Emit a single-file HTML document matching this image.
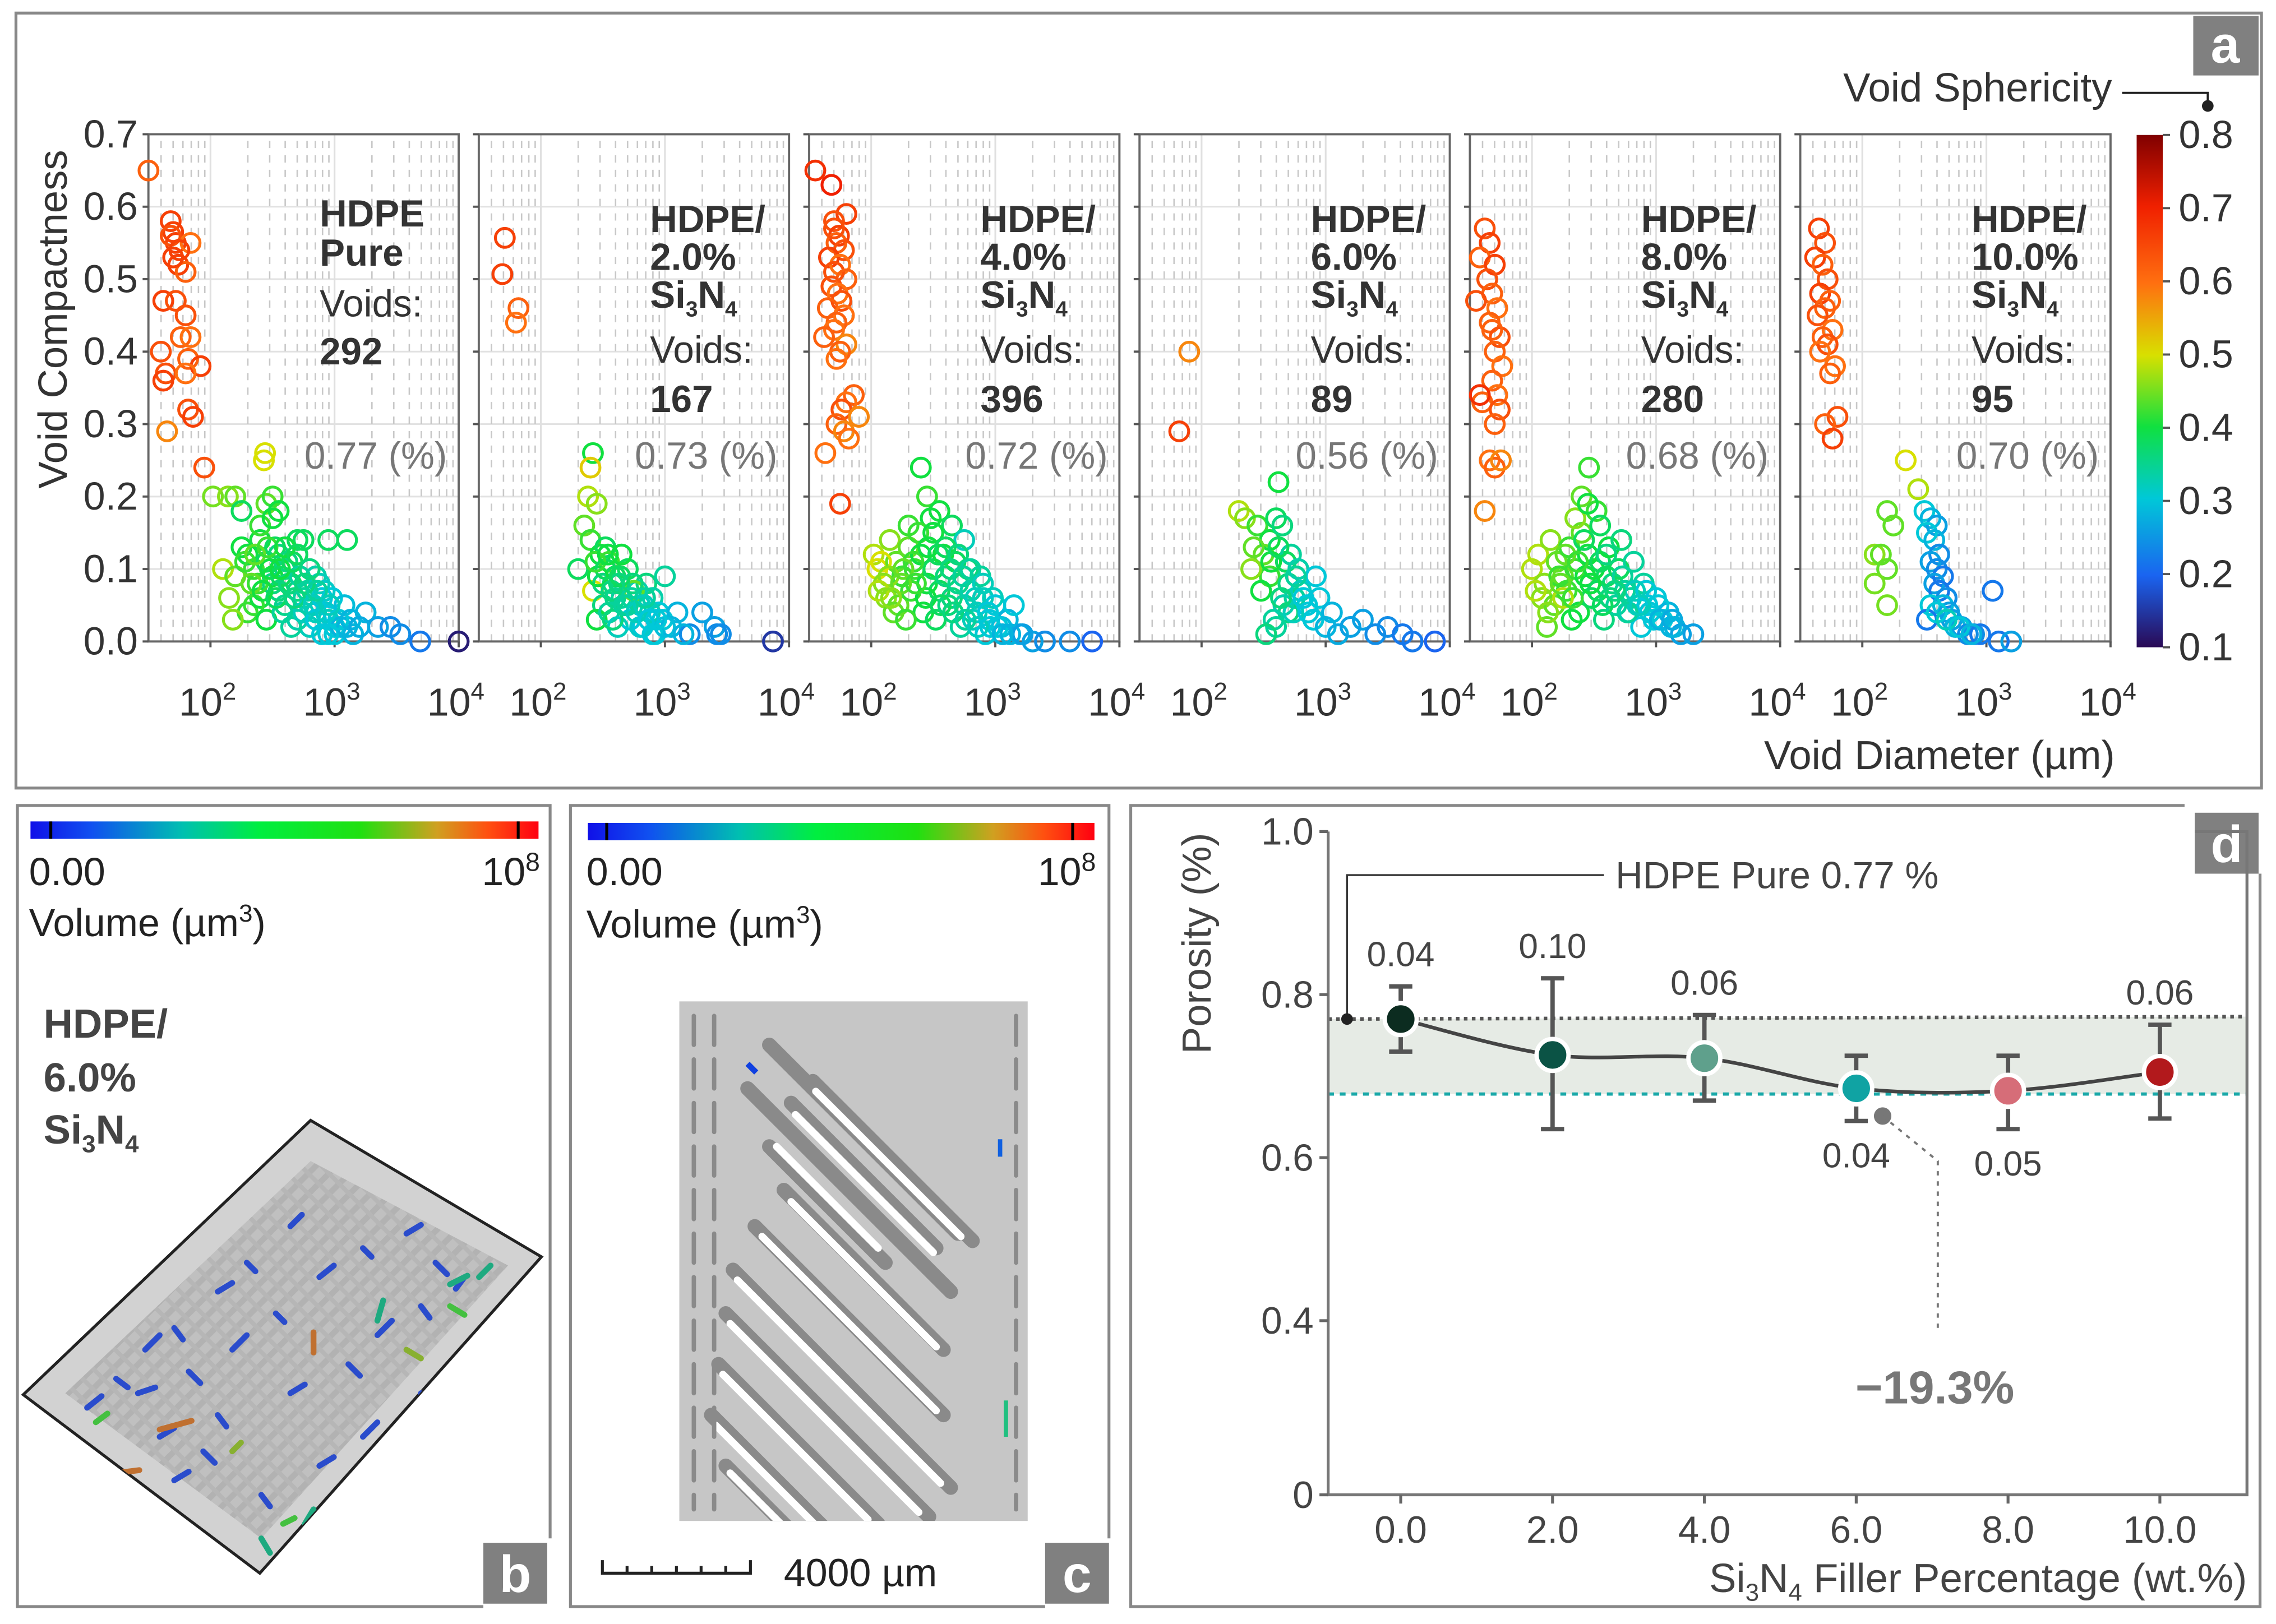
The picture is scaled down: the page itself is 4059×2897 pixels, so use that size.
<!DOCTYPE html>
<html><head><meta charset="utf-8">
<style>
html,body{margin:0;padding:0;background:#fff;}
svg{display:block;}
text{font-family:"Liberation Sans","DejaVu Sans",sans-serif;}
</style></head>
<body>
<svg id="fig" xmlns="http://www.w3.org/2000/svg" width="4059" height="2897" viewBox="0 0 1568 1119" preserveAspectRatio="none">
<defs>
<linearGradient id="sphGrad" x1="0" y1="1" x2="0" y2="0">
<stop offset="0" stop-color="#2a0a55"/><stop offset="0.14" stop-color="#1a64f0"/><stop offset="0.29" stop-color="#00c8d8"/><stop offset="0.43" stop-color="#10e040"/><stop offset="0.57" stop-color="#d8e000"/><stop offset="0.71" stop-color="#ff7010"/><stop offset="0.86" stop-color="#f02000"/><stop offset="1" stop-color="#800000"/>
</linearGradient>
<linearGradient id="volGrad" x1="0" y1="0" x2="1" y2="0">
<stop offset="0" stop-color="#1010e8"/><stop offset="0.12" stop-color="#1050f0"/><stop offset="0.3" stop-color="#00c0b0"/><stop offset="0.45" stop-color="#00ee40"/><stop offset="0.65" stop-color="#20e010"/><stop offset="0.8" stop-color="#d0a020"/><stop offset="0.9" stop-color="#ff5010"/><stop offset="1" stop-color="#ff0010"/>
</linearGradient>
<pattern id="hatch" width="10" height="10" patternUnits="userSpaceOnUse" patternTransform="rotate(45)">
<rect width="10" height="10" fill="#b4b4b4"/><rect width="4" height="10" fill="#9c9c9c"/><rect width="10" height="3" fill="#a4a4a4"/>
</pattern>
<clipPath id="blockClip"><polygon points="16,961 214,772 373,866 179,1084"/></clipPath>
</defs>

<!-- Panel a frame -->
<rect x="11" y="9" width="1547" height="534" fill="none" stroke="#888" stroke-width="2"/>
<rect x="1511" y="11" width="45" height="41" fill="#808080"/>
<text x="1533" y="43" font-size="36" font-weight="bold" fill="#fff" text-anchor="middle">a</text>
<text transform="translate(46,220) rotate(-90)" font-size="28" fill="#333" text-anchor="middle">Void Compactness</text>
<text x="1457" y="530" font-size="28" fill="#333" text-anchor="end">Void Diameter (µm)</text>
<g id="scatters"></g>

<!-- sphericity colorbar -->
<rect x="1472" y="93" width="18" height="353" fill="url(#sphGrad)"/>
<g id="sphTicks"></g>
<text x="1455" y="70" font-size="28" fill="#333" text-anchor="end">Void Sphericity</text>
<polyline points="1462,64 1521,64 1521,72" fill="none" stroke="#222" stroke-width="1.5"/>
<circle cx="1521" cy="73" r="4" fill="#222"/>

<!-- Panel b -->
<polyline points="333,1107 12,1107 12,555 379,555 379,1060" fill="none" stroke="#888" stroke-width="2"/>
<rect x="21" y="566" width="350" height="12" fill="url(#volGrad)"/>
<line x1="35" y1="566" x2="35" y2="578" stroke="#000" stroke-width="2"/><line x1="357" y1="566" x2="357" y2="578" stroke="#000" stroke-width="2"/>
<text x="20" y="610" font-size="27" fill="#222">0.00</text>
<text x="372" y="610" font-size="27" fill="#222" text-anchor="end">10<tspan dy="-10" font-size="18">8</tspan></text>
<text x="20" y="645" font-size="27" fill="#222">Volume (µm<tspan dy="-10" font-size="17">3</tspan><tspan dy="10">)</tspan></text>
<text font-size="28" font-weight="bold" fill="#444"><tspan x="30" y="715">HDPE/</tspan><tspan x="30" y="752">6.0%</tspan><tspan x="30" y="788">Si</tspan><tspan font-size="17" dy="6">3</tspan><tspan dy="-6">N</tspan><tspan font-size="17" dy="6">4</tspan></text>
<g>
<polygon points="16,961 214,772 373,866 179,1084" fill="#d2d2d2" stroke="#222" stroke-width="2"/>
<g clip-path="url(#blockClip)">
<polygon points="45,960 214,800 350,872 180,1060" fill="url(#hatch)" opacity="0.6"/>
<g stroke-width="4" stroke-linecap="round" fill="none">
<path d="M40,985 l14,12 M60,970 l10,-8 M80,950 l8,6 M100,930 l10,-10 M120,915 l6,8 M150,890 l10,-6 M170,870 l6,6 M200,845 l8,-8 M95,960 l12,-4 M130,945 l8,8 M160,930 l10,-10 M190,905 l6,6 M220,880 l10,-8 M250,860 l6,6 M280,850 l10,-6 M300,870 l8,8 M320,880 l-6,8 M110,990 l10,-6 M150,975 l6,8 M200,960 l10,-6 M240,940 l8,8 M260,920 l10,-10 M290,900 l6,8 M220,1010 l10,-6 M180,1030 l6,8 M250,990 l10,-10 M290,960 l8,6 M140,1000 l8,8 M120,1020 l10,-6 M230,1040 l6,8 M270,1010 l10,-6" stroke="#2a4ccc"/>
<path d="M40,990 l10,15 M60,1000 l12,6 M210,1050 l6,-10 M260,910 l4,-14 M310,885 l12,-6 M240,1030 l10,8 M180,1060 l6,10 M50,1010 l8,6 M330,880 l8,-8" stroke="#1eaa80"/>
<path d="M48,995 l10,10 M66,980 l8,-6 M195,1050 l8,-4 M310,900 l10,6" stroke="#44c040"/>
<path d="M110,985 l22,-6 M216,918 l0,14 M80,1015 l16,-2" stroke="#c07030"/>
<path d="M280,930 l10,6 M240,1035 l10,-4 M160,1000 l6,-6" stroke="#88b030"/>
</g>
</g>
</g>
<rect x="333" y="1063" width="44" height="42" fill="#808080"/>
<text x="355" y="1097" font-size="36" font-weight="bold" fill="#fff" text-anchor="middle">b</text>

<!-- Panel c -->
<polyline points="720,1107 393,1107 393,555 764,555 764,1060" fill="none" stroke="#888" stroke-width="2"/>
<rect x="405" y="567" width="349" height="12" fill="url(#volGrad)"/>
<line x1="418" y1="567" x2="418" y2="579" stroke="#000" stroke-width="2"/><line x1="739" y1="567" x2="739" y2="579" stroke="#000" stroke-width="2"/>
<text x="404" y="610" font-size="27" fill="#222">0.00</text>
<text x="755" y="610" font-size="27" fill="#222" text-anchor="end">10<tspan dy="-10" font-size="18">8</tspan></text>
<text x="404" y="646" font-size="27" fill="#222">Volume (µm<tspan dy="-10" font-size="17">3</tspan><tspan dy="10">)</tspan></text>
<g>
<rect x="468" y="690" width="240" height="358" fill="#c6c6c6"/>
<clipPath id="sliceClip"><rect x="468" y="690" width="240" height="358"/></clipPath>
<g clip-path="url(#sliceClip)" stroke-linecap="round">
<g stroke="#8a8a8a" stroke-width="10">
<path d="M530,720 l130,130 M515,750 l140,140 M530,790 l80,80 M545,760 l100,100 M560,745 l110,110 M540,820 l110,110 M520,845 l130,130 M505,875 l150,150 M500,905 l140,140 M495,940 l110,110 M490,975 l80,80 M500,1010 l50,50"/>
</g>
<g stroke="#fff" stroke-width="5">
<path d="M535,790 l70,70 M548,768 l95,95 M562,752 l100,100 M545,828 l100,100 M525,852 l120,120 M508,882 l140,140 M503,912 l130,130 M498,947 l100,100 M493,982 l72,72 M503,1015 l40,40"/>
</g>
<path d="M478,700 v340 M492,700 v340 M700,700 v340" stroke="#8a8a8a" stroke-width="3" stroke-dasharray="20,10"/>
</g>
<path d="M515,733 l6,6" stroke="#1040e0" stroke-width="4"/>
<path d="M693,965 v25" stroke="#20c080" stroke-width="3"/>
<path d="M689,785 v12" stroke="#1060e0" stroke-width="3"/>
</g>
<path d="M415,1075 v9 h102 v-9 M432,1084 v-5 M449,1084 v-5 M466,1084 v-5 M483,1084 v-5 M500,1084 v-5" fill="none" stroke="#222" stroke-width="2"/>
<text x="540" y="1093" font-size="27" fill="#222">4000 µm</text>
<rect x="720" y="1063" width="44" height="42" fill="#808080"/>
<text x="742" y="1097" font-size="36" font-weight="bold" fill="#fff" text-anchor="middle">c</text>

<!-- Panel d -->
<polyline points="1505,555 779,555 779,1107 1557,1107 1557,602" fill="none" stroke="#888" stroke-width="2"/>
<rect x="1512" y="560" width="44" height="42" fill="#808080"/>
<text x="1534" y="594" font-size="36" font-weight="bold" fill="#fff" text-anchor="middle">d</text>
<g id="porosity"></g>
<text transform="translate(834,650) rotate(-90)" font-size="28" fill="#444" text-anchor="middle">Porosity (%)</text>
<text x="1548" y="1097" font-size="28" fill="#444" text-anchor="end">Si<tspan font-size="17" dy="6">3</tspan><tspan dy="-6">N</tspan><tspan font-size="17" dy="6">4</tspan><tspan dy="-6"> Filler Percentage (wt.%)</tspan></text>
</svg>

<script>
// ---------------- Panel a data (log10 diameter, compactness, sphericity) ----------------
const panelNames = ["HDPE Pure","HDPE/2.0% Si3N4","HDPE/4.0% Si3N4","HDPE/6.0% Si3N4","HDPE/8.0% Si3N4","HDPE/10.0% Si3N4"];
const voidCounts = [292,167,396,89,280,95];
const porosityText = ["0.77 (%)","0.73 (%)","0.72 (%)","0.56 (%)","0.68 (%)","0.70 (%)"];
const xTicks = [2,3,4];
const yTicksA = [0,0.1,0.2,0.3,0.4,0.5,0.6,0.7];
const sphTicks = [0.1,0.2,0.3,0.4,0.5,0.6,0.7,0.8];

const p1D = [1.50,1.68,1.70,1.72,1.68,1.84,1.74,1.80,1.62,1.72,1.80,1.76,1.84,1.60,1.82,1.92,1.64,1.62,1.80,1.82,1.86,1.65,1.95,1.70,1.75,
 2.44,2.43,2.02,2.14,2.20,2.25,2.45,2.50,2.55,2.70,2.75,2.10,2.15,2.20,2.30,2.35,2.40,2.45,2.50,2.55,2.60,2.65,2.70,2.75,2.80,2.85,2.90,2.95,3.00,2.30,2.40,2.50,2.60,2.70,2.80,2.90,3.00,3.05,2.20,2.35,2.45,2.55,2.65,2.75,2.85,2.95,3.10,3.15,2.18,2.25,3.25,3.35,3.45,3.53,3.69,4.00,2.95,3.10,2.38,2.52,2.62,2.58,2.85,2.92,
 2.28,2.33,2.42,2.48,2.53,2.57,2.63,2.68,2.72,2.78,2.83,2.88,2.93,2.98,3.03,3.08,3.13,3.20,2.36,2.46,2.56,2.66,2.76,2.86,2.96,2.40,2.50,2.60,2.70,2.80];
const p1C = [.65,.58,.565,.55,.56,.55,.52,.51,.47,.47,.45,.42,.42,.40,.39,.38,.37,.36,.37,.32,.31,.29,.24,.53,.54,
 .26,.25,.20,.20,.20,.18,.19,.20,.18,.14,.14,.10,.06,.09,.12,.10,.14,.11,.09,.12,.10,.08,.07,.06,.05,.04,.06,.03,.02,.04,.06,.08,.05,.03,.02,.01,.01,.02,.09,.05,.03,.07,.02,.04,.03,.01,.02,.01,.03,.13,.04,.02,.02,.01,0,0,.14,.14,.08,.13,.11,.04,.09,.07,
 .11,.08,.07,.10,.06,.09,.08,.06,.09,.07,.05,.08,.04,.06,.03,.05,.03,.02,.12,.13,.10,.11,.08,.07,.05,.16,.17,.13,.12,.10];
const p1S = [.62,.66,.66,.66,.64,.60,.66,.62,.66,.64,.64,.62,.60,.64,.62,.66,.64,.66,.60,.64,.66,.58,.64,.66,.66,
 .50,.50,.45,.46,.44,.38,.44,.42,.40,.38,.38,.48,.46,.44,.40,.42,.40,.38,.40,.36,.36,.38,.36,.34,.32,.32,.30,.32,.30,.42,.40,.36,.35,.33,.32,.30,.30,.28,.44,.42,.40,.36,.34,.32,.30,.30,.28,.28,.46,.40,.28,.26,.24,.24,.22,.12,.38,.38,.42,.38,.36,.34,.33,.31,
 .42,.44,.40,.40,.38,.38,.36,.36,.34,.34,.32,.32,.31,.30,.30,.29,.28,.27,.44,.42,.40,.38,.36,.34,.32,.42,.40,.40,.38,.36];

const p2D = [1.71,1.69,1.82,1.80,
 2.42,2.40,2.38,2.45,2.35,2.30,2.40,2.48,2.52,2.55,2.60,2.42,2.50,2.58,2.65,2.70,2.75,2.80,2.85,2.90,2.95,3.00,2.45,2.55,2.62,2.68,2.72,2.78,2.82,2.88,2.92,2.98,3.05,3.10,3.20,3.30,3.40,3.42,3.45,2.50,2.60,2.70,2.80,2.90,3.00,3.15,3.87,2.65,2.75,2.58,
 2.46,2.52,2.57,2.63,2.67,2.73,2.77,2.83,2.87,2.93,2.44,2.54,2.64,2.74,2.84];
const p2C = [.557,.507,.46,.44,
 .26,.24,.20,.19,.16,.10,.14,.12,.13,.11,.09,.07,.05,.08,.06,.10,.07,.05,.08,.06,.04,.09,.03,.04,.02,.05,.03,.07,.02,.04,.01,.03,.02,.04,.01,.04,.02,.01,.01,.08,.06,.05,.02,.01,.02,.01,0,.12,.07,.03,
 .09,.10,.07,.08,.05,.06,.04,.05,.03,.03,.11,.12,.09,.08,.06];
const p2S = [.66,.66,.62,.60,
 .40,.52,.48,.46,.44,.38,.42,.40,.38,.42,.38,.50,.36,.36,.34,.38,.34,.32,.36,.33,.30,.34,.40,.34,.32,.34,.30,.33,.30,.32,.30,.30,.28,.28,.24,.26,.26,.24,.24,.36,.35,.34,.31,.30,.29,.28,.15,.40,.44,.36,
 .40,.38,.36,.36,.34,.34,.32,.32,.30,.30,.42,.40,.38,.36,.34];

const p3D = [1.55,1.68,1.80,1.70,1.74,1.72,1.78,1.66,1.75,1.70,1.80,1.68,1.73,1.76,1.65,1.78,1.72,1.70,1.62,1.80,1.75,1.72,1.86,1.80,1.76,1.90,1.72,1.78,1.82,1.63,1.75,1.70,
 2.02,2.05,2.10,2.15,2.20,2.25,2.30,2.35,2.40,2.45,2.50,2.55,2.60,2.65,2.70,2.75,2.80,2.85,2.90,2.95,3.00,3.05,3.10,3.20,2.12,2.22,2.32,2.42,2.52,2.62,2.72,2.82,2.92,3.02,3.12,3.22,3.30,3.40,3.60,3.78,2.40,2.45,2.55,2.65,2.75,2.48,2.58,2.68,2.78,2.88,2.98,2.08,2.18,2.28,2.38,3.15,
 2.14,2.24,2.34,2.44,2.54,2.64,2.74,2.84,2.94,2.06,2.16,2.26,2.36,2.46,2.56,2.66,2.76,2.86,2.96,3.06,2.30,2.50,2.60,2.70,2.80,2.90];
const p3C = [.65,.63,.59,.58,.56,.55,.54,.53,.52,.51,.50,.49,.48,.47,.46,.45,.44,.43,.42,.41,.40,.39,.34,.33,.32,.31,.30,.29,.28,.26,.19,.57,
 .12,.10,.08,.14,.11,.09,.13,.10,.12,.08,.10,.07,.09,.06,.08,.05,.07,.04,.06,.03,.05,.02,.03,.01,.06,.05,.07,.04,.03,.05,.02,.03,.01,.02,.01,.01,0,0,0,0,.24,.20,.18,.16,.14,.17,.12,.11,.10,.09,.06,.11,.04,.03,.15,.05,
 .09,.08,.11,.06,.12,.10,.09,.06,.04,.07,.06,.10,.08,.13,.05,.04,.03,.02,.02,.01,.16,.15,.13,.12,.10,.08];
const p3S = [.68,.70,.66,.64,.66,.62,.64,.66,.60,.64,.62,.64,.60,.64,.62,.60,.62,.60,.62,.58,.62,.60,.62,.60,.64,.58,.62,.58,.60,.60,.66,.64,
 .48,.50,.46,.46,.44,.42,.44,.42,.40,.40,.38,.38,.36,.36,.35,.34,.33,.32,.32,.30,.30,.29,.28,.27,.46,.44,.42,.40,.38,.36,.34,.32,.30,.30,.28,.26,.26,.24,.24,.20,.40,.42,.40,.38,.32,.40,.40,.38,.36,.34,.32,.50,.44,.42,.42,.30,
 .46,.44,.42,.40,.38,.36,.34,.32,.30,.48,.46,.44,.42,.40,.38,.36,.34,.32,.30,.28,.42,.40,.38,.36,.34,.32];

const p4D = [1.90,1.82,
 2.30,2.35,2.45,2.50,2.55,2.40,2.48,2.55,2.60,2.62,2.65,2.68,2.70,2.72,2.75,2.78,2.80,2.70,2.85,2.90,2.95,3.00,3.05,3.10,3.20,3.30,3.40,3.50,3.62,3.70,3.88,2.58,2.66,2.74,2.82,2.60,2.52,2.92,
 2.42,2.56,2.64,2.76,2.86,2.62];
const p4C = [.40,.29,
 .18,.17,.16,.12,.09,.10,.07,.14,.17,.22,.16,.11,.08,.12,.06,.10,.07,.04,.05,.03,.06,.02,.04,.01,.02,.03,.01,.02,.01,.0,.0,.03,.05,.04,.06,.02,.01,.09,
 .13,.11,.06,.09,.04,.13];
const p4S = [.58,.66,
 .48,.46,.42,.44,.42,.46,.40,.40,.38,.40,.36,.38,.36,.34,.34,.33,.32,.36,.30,.30,.30,.28,.28,.27,.26,.26,.24,.24,.22,.22,.20,.34,.33,.32,.30,.34,.36,.30,
 .44,.40,.36,.34,.30,.38];

const p5D = [1.62,1.66,1.58,1.70,1.64,1.68,1.55,1.72,1.66,1.74,1.70,1.76,1.68,1.72,1.60,1.74,1.70,1.58,1.66,1.70,1.75,1.62,1.68,
 2.00,2.05,2.10,2.15,2.20,2.25,2.30,2.35,2.40,2.45,2.50,2.55,2.60,2.65,2.70,2.75,2.80,2.85,2.90,2.95,3.00,3.05,3.10,3.15,3.20,3.30,2.08,2.18,2.28,2.38,2.48,2.58,2.68,2.78,2.88,2.98,2.40,2.46,2.52,2.35,2.45,2.55,2.62,2.72,2.82,2.92,3.02,3.12,2.12,2.22,2.32,2.42,2.25,2.60,
 2.03,2.13,2.23,2.33,2.43,2.53,2.63,2.73,2.83,2.93,3.03,3.13,2.27,2.37,2.47,2.57,2.67,2.77,2.87];
const p5C = [.57,.55,.53,.52,.50,.48,.47,.46,.44,.42,.40,.38,.36,.34,.33,.32,.30,.34,.25,.24,.25,.18,.43,
 .10,.12,.08,.14,.11,.09,.13,.10,.15,.12,.10,.11,.09,.08,.10,.07,.06,.05,.08,.04,.06,.03,.04,.02,.01,.01,.06,.05,.07,.04,.06,.03,.05,.04,.02,.03,.20,.24,.18,.17,.19,.16,.13,.14,.11,.07,.05,.02,.02,.09,.03,.14,.06,.12,
 .07,.04,.08,.06,.09,.07,.06,.09,.07,.05,.03,.03,.12,.11,.08,.05,.07,.04,.05];
const p5S = [.64,.66,.62,.66,.64,.62,.64,.60,.62,.64,.62,.60,.62,.60,.62,.64,.62,.68,.60,.62,.58,.58,.62,
 .48,.48,.46,.46,.44,.44,.42,.42,.44,.40,.40,.38,.38,.36,.38,.34,.34,.32,.34,.30,.30,.30,.28,.28,.26,.26,.46,.44,.42,.40,.38,.36,.34,.32,.30,.30,.44,.42,.42,.46,.40,.38,.40,.36,.34,.30,.30,.28,.44,.42,.40,.38,.48,.36,
 .48,.46,.44,.42,.40,.38,.36,.34,.32,.30,.28,.27,.44,.42,.40,.38,.36,.34,.32];

const p6D = [1.65,1.70,1.62,1.68,1.72,1.66,1.74,1.70,1.64,1.76,1.68,1.72,1.66,1.78,1.74,1.80,1.70,1.76,
 2.35,2.45,2.20,2.25,2.10,2.15,2.20,2.10,2.20,
 2.50,2.55,2.60,2.52,2.58,2.62,2.55,2.60,2.65,2.58,2.62,2.68,2.55,2.65,2.70,2.72,2.75,2.80,2.85,2.90,2.95,3.05,3.10,3.20,2.52,2.60,2.68,2.78,2.88];
const p6C = [.57,.55,.53,.52,.50,.48,.47,.46,.45,.43,.42,.41,.40,.38,.37,.31,.30,.28,
 .25,.21,.18,.16,.12,.12,.10,.08,.05,
 .18,.17,.16,.15,.14,.12,.11,.10,.09,.08,.07,.06,.05,.05,.04,.03,.02,.02,.01,.01,.01,.07,.0,.0,.03,.04,.03,.02,.01];
const p6S = [.66,.64,.66,.62,.64,.66,.62,.62,.64,.60,.62,.64,.60,.60,.62,.64,.62,.66,
 .50,.48,.44,.44,.46,.44,.44,.45,.45,
 .30,.28,.26,.30,.28,.24,.26,.24,.22,.26,.22,.24,.30,.28,.26,.26,.28,.26,.24,.24,.22,.22,.22,.26,.22,.30,.32,.30,.28];

const panelD = [p1D,p2D,p3D,p4D,p5D,p6D];
const panelC = [p1C,p2C,p3C,p4C,p5C,p6C];
const panelS = [p1S,p2S,p3S,p4S,p5S,p6S];

// ---------------- Panel d data ----------------
const fillerPct = [0,2,4,6,8,10];
const porosityMean = [0.770,0.726,0.722,0.685,0.682,0.705];
const porosityLo = [0.730,0.635,0.670,0.645,0.635,0.648];
const porosityHi = [0.810,0.820,0.775,0.725,0.725,0.763];
const errLabels = ["0.04","0.10","0.06","0.04","0.05","0.06"];
const pointColors = ["#0c2c20","#0b5345","#5fa08c","#10a3a3","#d66d78","#b2191c"];
const yTicksD = [0.4,0.6,0.8,1.0];
const xTicksD = ["0.0","2.0","4.0","6.0","8.0","10.0"];
const baselinePorosity = 0.770;
const minPorosity = 0.678;

const NS = "http://www.w3.org/2000/svg";
function mk(tag, attrs, parent){ const e=document.createElementNS(NS,tag); for(const k in attrs) e.setAttribute(k,attrs[k]); if(parent) parent.appendChild(e); return e; }

const xDec2 = 145, xStep = 227.6, decPx = 85.5;
function xA(k, lg){ return xDec2 + k*xStep + (lg-2)*decPx; }
const yA0 = 442, yA7 = 92.5;
function yA(c){ return yA0 - c*(yA0-yA7)/0.7; }
const cmapStops = [[0.1,[42,10,85]],[0.2,[26,100,240]],[0.3,[0,200,216]],[0.4,[16,224,64]],[0.5,[216,224,0]],[0.6,[255,112,16]],[0.7,[240,32,0]],[0.8,[128,0,0]]];
function cmap(s){
  if(s<=0.1) s=0.1; if(s>=0.8) s=0.8;
  for(let i=0;i<cmapStops.length-1;i++){ const a=cmapStops[i],b=cmapStops[i+1];
    if(s<=b[0]){ const t=(s-a[0])/(b[0]-a[0]); const c=a[1].map((v,j)=>Math.round(v+(b[1][j]-v)*t)); return `rgb(${c[0]},${c[1]},${c[2]})`; } }
  return "rgb(128,0,0)";
}

const sc = document.getElementById('scatters');
for(let k=0;k<6;k++){
  const g = mk('g',{},sc);
  
  
  const L = xA(k,1.5), R = xA(k,4);
  for(const t of yTicksA){ if(t>0 && t<0.7) mk('line',{x1:L,x2:R,y1:yA(t),y2:yA(t),stroke:'#e2e2e2','stroke-width':1.2},g); }
  for(let d=1; d<=3; d++){ for(let m=1;m<=9;m++){ const lg=d+Math.log10(m); if(lg<=1.5||lg>=4) continue;
    mk('line',{x1:xA(k,lg),x2:xA(k,lg),y1:yA0,y2:yA7,stroke: m===1?'#e0e0e0':'#c8c8c8','stroke-width':m===1?1.2:1,'stroke-dasharray':m===1?'none':'5,5'},g);} }
  mk('rect',{x:L,y:yA7,width:R-L,height:yA0-yA7,fill:'none',stroke:'#666','stroke-width':1.5},g);
  for(const t of yTicksA){ mk('line',{x1:L-4,x2:L,y1:yA(t),y2:yA(t),stroke:'#555','stroke-width':1.5},g); }
  for(const t of xTicks){ mk('line',{x1:xA(k,t),x2:xA(k,t),y1:yA0,y2:yA0+4,stroke:'#555','stroke-width':1.5},g); }
  const D=panelD[k], C=panelC[k], S=panelS[k];
  for(let i=0;i<D.length;i++){
    const c = mk('circle',{cx:xA(k,D[i]).toFixed(1),cy:yA(C[i]).toFixed(1),r:6.5,fill:'none',stroke:cmap(S[i]),'stroke-width':2},g);
    
    
  }
  for(const t of xTicks){
    const tx = mk('text',{x:xA(k,t)-2,y:493,'font-size':27,fill:'#333','text-anchor':'middle'},g);
    
    
    tx.textContent='10';
    const sp = mk('tspan',{dy:-11,'font-size':17},tx); sp.textContent=String(t);
  }
  const tx0 = xA(k,2.95);
  const lab = mk('text',{'font-size':26,fill:'#333'},g);
  
  
  if(k===0){
    const a=mk('tspan',{x:tx0-6,y:156,'font-weight':'bold'},lab); a.textContent='HDPE';
    const b=mk('tspan',{x:tx0-6,y:183,'font-weight':'bold'},lab); b.textContent='Pure';
    const c=mk('tspan',{x:tx0-6,y:218},lab); c.textContent='Voids:';
    const d=mk('tspan',{x:tx0-6,y:251,'font-weight':'bold'},lab); d.textContent=String(voidCounts[k]);
  } else {
    const pct = panelNames[k].split('/')[1].split(' ')[0];
    const a=mk('tspan',{x:tx0-6,y:160,'font-weight':'bold'},lab); a.textContent='HDPE/';
    const b=mk('tspan',{x:tx0-6,y:186,'font-weight':'bold'},lab); b.textContent=pct;
    const c=mk('tspan',{x:tx0-6,y:212,'font-weight':'bold'},lab); c.textContent='Si';
    const c2=mk('tspan',{dy:6,'font-size':15,'font-weight':'bold'},lab); c2.textContent='3';
    const c3=mk('tspan',{dy:-6,'font-weight':'bold'},lab); c3.textContent='N';
    const c4=mk('tspan',{dy:6,'font-size':15,'font-weight':'bold'},lab); c4.textContent='4';
    const d=mk('tspan',{x:tx0-6,y:250},lab); d.textContent='Voids:';
    const e=mk('tspan',{x:tx0-6,y:284,'font-weight':'bold'},lab); e.textContent=String(voidCounts[k]);
  }
  const pt = mk('text',{x:R-8,y:323,'font-size':26,fill:'#777','text-anchor':'end'},g);
  
  
  pt.textContent = porosityText[k];
}
for(const t of yTicksA){
  const tx = mk('text',{x:95,y:yA(t)+9,'font-size':27,fill:'#333','text-anchor':'end'},sc);
  
  
  tx.textContent=t.toFixed(1);
}
const st = document.getElementById('sphTicks');
for(const t of sphTicks){
  const y = 446 - (t-0.1)/0.7*353;
  mk('line',{x1:1490,x2:1495,y1:y,y2:y,stroke:'#555','stroke-width':1.5},st);
  const tx = mk('text',{x:1501,y:y+9,'font-size':27,fill:'#333'},st);
  
  
  tx.textContent=t.toFixed(1);
}

// ---------------- Panel d ----------------
const pg = document.getElementById('porosity');
const xD0 = 965, xDstep = 52.3;
function xD(v){ return xD0 + v*xDstep; }
function yD(v){ return 910 - (v-0.4)*561.7; }
const axL = 915, axR = 1548, axB = 1030, axT = yD(1.0);
const band = mk('polygon',{points:`${axL},${yD(baselinePorosity)} ${axR},${yD(baselinePorosity+0.003)} ${axR},${yD(minPorosity)} ${axL},${yD(minPorosity)}`,fill:'#e6ebe5'},pg);


const l1 = mk('line',{x1:axL,x2:axR,y1:yD(baselinePorosity),y2:yD(baselinePorosity+0.003),stroke:'#555','stroke-width':2.5,'stroke-dasharray':'2.5,3'},pg);


const l2 = mk('line',{x1:axL,x2:axR,y1:yD(minPorosity),y2:yD(minPorosity),stroke:'#18a8a8','stroke-width':2.2,'stroke-dasharray':'4,4'},pg);


const ax = mk('path',{d:`M${axL},${axT} V${axB} H${axR} V${axT} H1512`,fill:'none',stroke:'#777','stroke-width':2},pg);


for(const t of yTicksD){
  mk('line',{x1:axL-6,x2:axL,y1:yD(t),y2:yD(t),stroke:'#666','stroke-width':2},pg);
  const tx = mk('text',{x:axL-10,y:yD(t)+9,'font-size':26,fill:'#444','text-anchor':'end'},pg);
  
  
  tx.textContent=t.toFixed(1);
}
mk('line',{x1:axL-6,x2:axL,y1:axB,y2:axB,stroke:'#666','stroke-width':2},pg);
const z = mk('text',{x:axL-10,y:axB+9,'font-size':26,fill:'#444','text-anchor':'end'},pg);


z.textContent='0';
for(let i=0;i<fillerPct.length;i++){
  mk('line',{x1:xD(fillerPct[i]),x2:xD(fillerPct[i]),y1:axB,y2:axB+6,stroke:'#666','stroke-width':2},pg);
  const tx = mk('text',{x:xD(fillerPct[i]),y:axB+33,'font-size':26,fill:'#444','text-anchor':'middle'},pg);
  
  
  tx.textContent=xTicksD[i];
}
const P = fillerPct.map((v,i)=>[xD(v),yD(porosityMean[i])]);
let d = `M${P[0][0]},${P[0][1]}`;
for(let i=0;i<P.length-1;i++){
  const p0=P[Math.max(0,i-1)],p1=P[i],p2=P[i+1],p3=P[Math.min(P.length-1,i+2)];
  const c1=[p1[0]+(p2[0]-p0[0])/6,p1[1]+(p2[1]-p0[1])/6], c2=[p2[0]-(p3[0]-p1[0])/6,p2[1]-(p3[1]-p1[1])/6];
  d+=` C${c1[0].toFixed(1)},${c1[1].toFixed(1)} ${c2[0].toFixed(1)},${c2[1].toFixed(1)} ${p2[0].toFixed(1)},${p2[1].toFixed(1)}`;
}
const curve = mk('path',{d:d,fill:'none',stroke:'#444','stroke-width':2.5},pg);


for(let i=0;i<fillerPct.length;i++){
  const x=xD(fillerPct[i]);
  const eb = mk('path',{d:`M${x},${yD(porosityLo[i])} V${yD(porosityHi[i])} M${x-8},${yD(porosityLo[i])} h16 M${x-8},${yD(porosityHi[i])} h16`,stroke:'#555','stroke-width':3,fill:'none'},pg);
  
  
  const c = mk('circle',{cx:x,cy:yD(porosityMean[i]),r:11,fill:pointColors[i],stroke:'#fff','stroke-width':3},pg);
  
  
  const below = (i===3||i===4);
  const ly = below ? yD(porosityLo[i])+32 : yD(porosityHi[i])-14;
  const t = mk('text',{x:x,y:ly,'font-size':24,fill:'#444','text-anchor':'middle'},pg);
  
  
  t.textContent=errLabels[i];
}
const an1 = mk('polyline',{points:`928,${yD(baselinePorosity)} 928,603 1105,603`,fill:'none',stroke:'#333','stroke-width':1.3},pg);


mk('circle',{cx:928,cy:yD(baselinePorosity),r:4,fill:'#222'},pg);
const at = mk('text',{x:1113,y:612,'font-size':26,fill:'#444'},pg);


at.textContent='HDPE Pure 0.77 %';
mk('circle',{cx:1297,cy:769,r:6,fill:'#777'},pg);
const an2 = mk('polyline',{points:'1297,769 1335,800 1335,915',fill:'none',stroke:'#777','stroke-width':1.5,'stroke-dasharray':'3,4'},pg);


const rt = mk('text',{x:1333,y:967,'font-size':32,'font-weight':'bold',fill:'#777','text-anchor':'middle'},pg);


rt.textContent='−19.3%';
</script>
</body></html>
